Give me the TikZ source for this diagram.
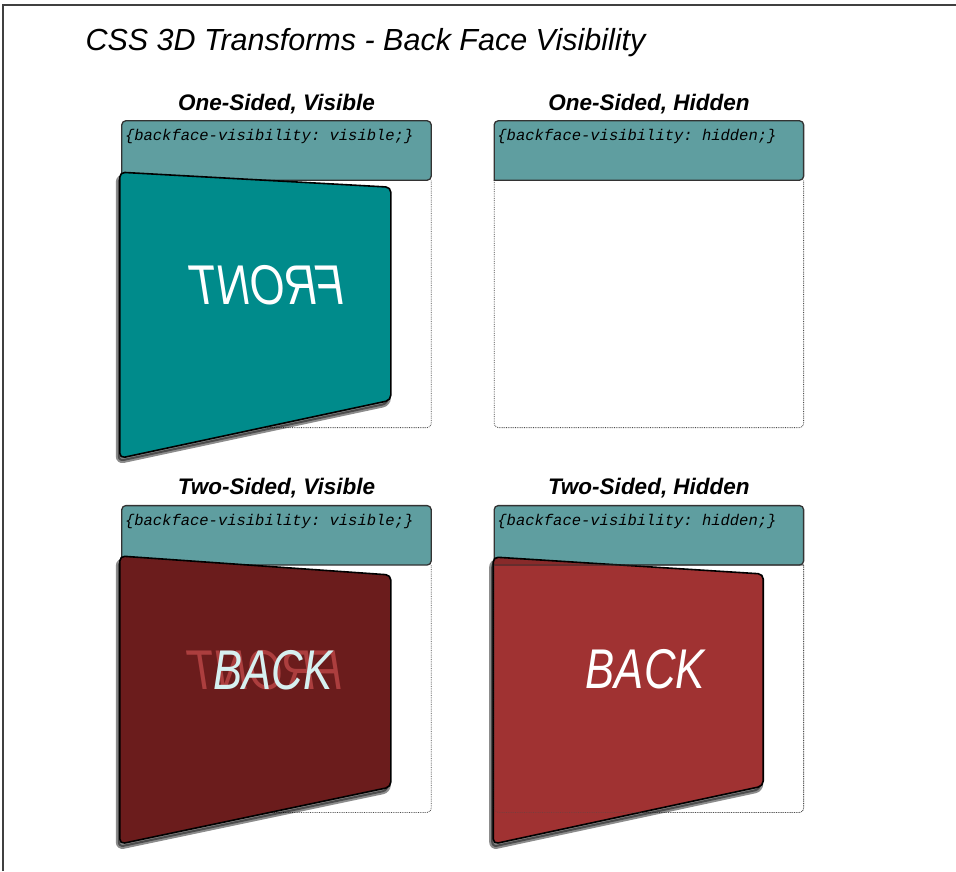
\documentclass[tikz,border=0pt]{standalone}
\usepackage{fontspec}
\setmainfont{Liberation Sans}
\setmonofont{Liberation Mono}
\usetikzlibrary{positioning}

\definecolor{cadet}{RGB}{95,158,160}
\definecolor{darkteal}{RGB}{0,139,139}
\definecolor{backdark}{RGB}{107,28,28}
\definecolor{backred}{RGB}{160,50,50}
\definecolor{backtext}{RGB}{214,240,240}
\definecolor{ghost}{RGB}{172,62,62}

\begin{document}
\begin{tikzpicture}[x=1pt, y=-1pt, font=\rmfamily]
    \tikzset{
      heading/.style={font=\fontsize{22.5}{24}\selectfont\bfseries\itshape, inner sep=0pt},
      css/.style={font=\fontsize{15.5}{17}\selectfont\ttfamily\itshape, anchor=base west, inner sep=0pt},
      headbox/.style={minimum width=309pt, minimum height=59pt, inner sep=0pt},
      slotbox/.style={minimum width=309pt, minimum height=247pt, inner sep=0pt},
      header/.style={fill=cadet, draw=black!80, line width=1.3pt},
      slot/.style={draw=black!70, densely dotted, line width=0.8pt, rounded corners=4pt},
      card/.style={draw=black, line width=1.6pt, rounded corners=5pt},
      shade/.style={fill=black, draw=black, line width=4pt, opacity=0.45, rounded corners=6pt,
        transform canvas={shift={(-2pt,-4pt)}}},
      face/.style={font=\fontsize{56}{60}\selectfont\itshape, inner sep=0pt}
    }
    \fill[white] (0,0) rectangle (956,871);
    \useasboundingbox (0,0) rectangle (956,871);
    \draw[black!75, line width=1.5pt] (3,871) |- (956,5);

    \node[anchor=base west, font=\fontsize{30.5}{32}\selectfont\itshape] (title) at (82,50)
      {CSS 3D Transforms - Back Face Visibility};

    % the four boxes
    \node[headbox] (h1) at (276.5,150.5) {};
    \node[headbox, right=63pt of h1] (h2) {};
    \node[slotbox, below=0pt of h1] (s1) {};
    \node[slotbox, below=0pt of h2] (s2) {};
    \node[headbox, below=78pt of s1] (h3) {};
    \node[headbox, below=78pt of s2] (h4) {};
    \node[slotbox, below=0pt of h3] (s3) {};
    \node[slotbox, below=0pt of h4] (s4) {};

    \foreach \n in {1,2,3,4} {
      \draw[slot] (s\n.north west) -- (s\n.south west) -- (s\n.south east) -- (s\n.north east);
      \draw[header] (h\n.south west) [rounded corners=4pt] -- (h\n.north west)
        -- (h\n.north east) -- (h\n.south east) [sharp corners] -- cycle;
    }

    \node[heading, above=7pt of h1] (t1) {One-Sided, Visible};
    \node[heading, above=7pt of h2] (t2) {One-Sided, Hidden};
    \node[heading, above=7pt of h3] (t3) {Two-Sided, Visible};
    \node[heading, above=7pt of h4] (t4) {Two-Sided, Hidden};

    \node[css] (c1) at ([shift={(3,20)}]h1.north west) {\{backface-visibility: visible;\}};
    \node[css] (c2) at ([shift={(3,20)}]h2.north west) {\{backface-visibility: hidden;\}};
    \node[css] (c3) at ([shift={(3,20)}]h3.north west) {\{backface-visibility: visible;\}};
    \node[css] (c4) at ([shift={(3,20)}]h4.north west) {\{backface-visibility: hidden;\}};

    % one-sided, visible: front seen from behind
    \coordinate (f1) at ([shift={(-2,-8)}]h1.south west);
    \coordinate (f2) at ([shift={(269,7)}]h1.south west);
    \coordinate (f3) at ([shift={(269,220)}]h1.south west);
    \coordinate (f4) at ([shift={(-2,278)}]h1.south west);
    \filldraw[shade] (f1) -- (f2) -- (f3) -- (f4) -- cycle;
    \draw[card, fill=darkteal] (f1) -- (f2) -- (f3) -- (f4) -- cycle;
    \node[face, text=white] (front1) at ([shift={(146,105)}]h1.south west) {\scalebox{-0.8}[1]{FRONT}};

    % two-sided, visible
    \coordinate (b1) at ([shift={(-2,-9)}]h3.south west);
    \coordinate (b2) at ([shift={(269,10)}]h3.south west);
    \coordinate (b3) at ([shift={(269,222)}]h3.south west);
    \coordinate (b4) at ([shift={(-2,279)}]h3.south west);
    \filldraw[shade] (b1) -- (b2) -- (b3) -- (b4) -- cycle;
    \draw[card, fill=backdark] (b1) -- (b2) -- (b3) -- (b4) -- cycle;
    \node[face, text=ghost] (front3) at ([shift={(144,105)}]h3.south west) {\scalebox{-0.8}[1]{FRONT}};
    \node[face, text=backtext] (back3) at ([shift={(151,105)}]h3.south west) {\scalebox{0.78}[1]{BACK}};

    % two-sided, hidden
    \coordinate (k1) at ([shift={(-1,-8)}]h4.south west);
    \coordinate (k2) at ([shift={(269,9)}]h4.south west);
    \coordinate (k3) at ([shift={(269,221)}]h4.south west);
    \coordinate (k4) at ([shift={(-1,279)}]h4.south west);
    \filldraw[shade] (k1) -- (k2) -- (k3) -- (k4) -- cycle;
    \draw[card, fill=backred] (k1) -- (k2) -- (k3) -- (k4) -- cycle;
    \begin{scope}
      \clip (h4.south west) rectangle (h4.north east);
      \fill[black, opacity=0.15] (k1) -- (k2) -- (k3) -- (k4) -- cycle;
    \end{scope}
    \draw[black!80, opacity=0.4, line width=1.3pt] (h4.south west) -- (h4.south east);
    \draw[slot, opacity=0.45] (s4.north west) -- (s4.south west) -- (s4.south east) -- (s4.north east);
    \node[face, text=white] (back4) at ([shift={(151,104)}]h4.south west) {\scalebox{0.78}[1]{BACK}};
\end{tikzpicture}
\end{document}
